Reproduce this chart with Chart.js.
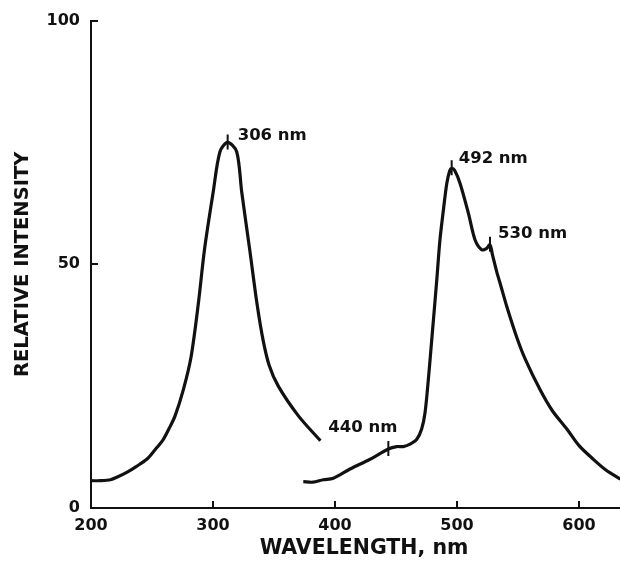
<!DOCTYPE html>
<html><head><meta charset="utf-8">
<style>html,body{margin:0;padding:0;background:#fff;overflow:hidden;width:620px;height:561px}canvas{display:block}</style>
<script src="https://cdn.jsdelivr.net/npm/chart.js@4/dist/chart.umd.min.js"></script>
</head><body><canvas id="c" width="637" height="561"></canvas>
<script>
// ---- data ----
const excitationNm  = [200,208,216,222,229.3,237,245.7,252,259.3,264,268.9,275.7,282,288,293,300.2,305.7,312,319.4,323.5,330.3,336,341,346,353.5,370,388];
const excitationVal = [5.6,5.6,5.8,6.4,7.3,8.5,10,11.8,14.1,16.3,18.9,24.3,31,42,53,64.9,73.1,75,73.1,64.9,52.6,42,34.5,29.3,25,18.9,13.8];
const emissionNm  = [374,382,390.4,398.6,412.3,428.7,443.7,450.6,456,461.5,467,471,473.8,476.5,479.3,483.4,486,489,491.6,494,495.6,498,502.5,509.3,514.8,520.2,524,527,529,532.5,536,540.7,549,556,568,578,590,600,611.7,622,634];
const emissionVal = [5.4,5.3,5.8,6.1,8,10,12.1,12.6,12.6,13.1,14.1,16.2,19.6,26.4,34.6,46.8,55,61.5,66.6,69.2,69.7,69.3,66.6,60.5,55,53,53.2,54,52,48.5,45.5,41.4,35,30.5,24.3,20,16.2,12.8,10,7.8,5.9];
const xTicks = [200,300,400,500,600];
const yTicks = [0,50,100];
const peakNm     = [312,443.7,495.6,527];
const peakVal    = [75,12.1,69.7,54];
const peakLabels = ['306 nm','440 nm','492 nm','530 nm'];
const xTitle = 'WAVELENGTH, nm';
const yTitle = 'RELATIVE INTENSITY';

// ---- styles ----
const INK = '#111';
const FAMILY = '"DejaVu Sans", "Liberation Sans", sans-serif';
const labelOffsets = [[10,-7],[-60,-21],[7,-10],[8,-11]];

const toPts = (xs, ys) => xs.map((v, i) => ({x: v, y: ys[i]}));

const decor = {
  id: 'decor',
  afterDatasetsDraw(chart) {
    const {ctx, chartArea: a} = chart;
    const x = chart.scales.x, y = chart.scales.y;
    ctx.save();
    ctx.strokeStyle = INK;
    ctx.lineWidth = 2;
    ctx.beginPath();
    xTicks.forEach(v => { if (v === x.min) return; const px = Math.round(x.getPixelForValue(v)); ctx.moveTo(px, a.bottom); ctx.lineTo(px, a.bottom - 7); });
    yTicks.forEach(v => { if (v === y.min) return; const py = Math.round(y.getPixelForValue(v)); ctx.moveTo(a.left, py); ctx.lineTo(a.left + 7, py); });
    ctx.stroke();
    ctx.beginPath();
    peakNm.forEach((n, i) => {
      const px = x.getPixelForValue(n), py = y.getPixelForValue(peakVal[i]);
      ctx.moveTo(px, py - 8); ctx.lineTo(px, py + 7);
    });
    ctx.stroke();
    ctx.fillStyle = INK;
    ctx.font = 'bold 16.5px ' + FAMILY;
    ctx.textBaseline = 'middle';
    ctx.textAlign = 'left';
    peakNm.forEach((n, i) => {
      const px = x.getPixelForValue(n), py = y.getPixelForValue(peakVal[i]);
      ctx.fillText(peakLabels[i], px + labelOffsets[i][0], py + labelOffsets[i][1]);
    });
    ctx.restore();
  }
};

const lineStyle = {showLine: true, borderColor: INK, borderWidth: 3.2, pointRadius: 0, fill: false, tension: 0.3};

new Chart(document.getElementById('c'), {
  type: 'scatter',
  data: {
    datasets: [
      Object.assign({label: 'Excitation', data: toPts(excitationNm, excitationVal)}, lineStyle),
      Object.assign({label: 'Emission', data: toPts(emissionNm, emissionVal)}, lineStyle)
    ]
  },
  options: {
    responsive: false,
    animation: false,
    devicePixelRatio: 1,
    layout: {padding: {top: 20, right: 0, left: 0, bottom: 0}},
    plugins: {legend: {display: false}, tooltip: {enabled: false}},
    scales: {
      x: {
        type: 'linear', position: 'bottom', min: 200, max: 647.5,
        afterBuildTicks: s => { s.ticks = xTicks.map(v => ({value: v})); },
        afterFit: s => { s.height = 53; },
        grid: {display: false, drawTicks: false},
        border: {display: true, color: INK, width: 2},
        ticks: {color: INK, padding: 8, maxRotation: 0, autoSkip: false, font: {family: FAMILY, size: 16, weight: 'bold'}},
        title: {display: true, text: xTitle, color: INK, padding: {top: 0, bottom: 0}, font: {family: FAMILY, size: 20.5, weight: 'bold'}}
      },
      y: {
        type: 'linear', position: 'left', min: 0, max: 100,
        afterBuildTicks: s => { s.ticks = yTicks.map(v => ({value: v})); },
        afterFit: s => { s.width = 91; },
        grid: {display: false, drawTicks: false},
        border: {display: true, color: INK, width: 2},
        ticks: {color: INK, padding: 11, font: {family: FAMILY, size: 16, weight: 'bold'}},
        title: {display: true, text: yTitle, color: INK, padding: {top: 11, bottom: 0}, font: {family: FAMILY, size: 19.5, weight: 'bold'}}
      }
    }
  },
  plugins: [decor]
});
</script>
</body></html>
